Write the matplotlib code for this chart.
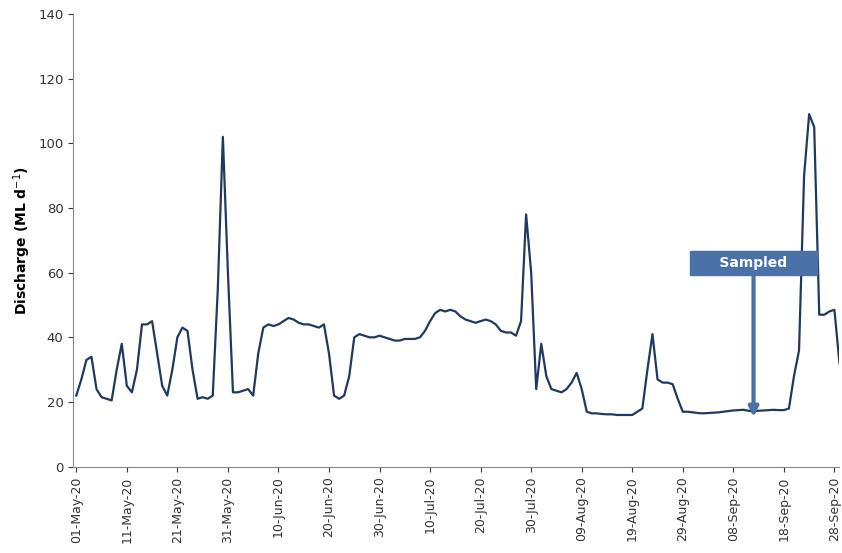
import matplotlib.pyplot as plt
import matplotlib.dates as mdates
import numpy as np
import pandas as pd

discharge = [
    22, 27, 33, 34, 24, 21.5, 21, 20.5, 30, 38,
    25, 23, 30, 44, 44, 45, 35, 25, 22, 30,
    40, 43, 42, 30, 21, 21.5, 21, 22, 55, 102,
    60, 23, 23, 23.5, 24, 22, 35, 43, 44, 43.5,
    44, 45, 46, 45.5, 44.5, 44, 44, 43.5, 43, 44,
    35, 22, 21, 22, 28, 40, 41, 40.5, 40, 40,
    40.5, 40, 39.5, 39, 39, 39.5, 39.5, 39.5, 40, 42,
    45, 47.5, 48.5, 48, 48.5, 48, 46.5, 45.5, 45, 44.5,
    45, 45.5, 45, 44, 42, 41.5, 41.5, 40.5, 45, 78,
    60, 24, 38, 28, 24, 23.5, 23, 24, 26, 29,
    24, 17, 16.5, 16.5, 16.3, 16.2, 16.2, 16, 16, 16,
    16, 17, 18, 30, 41, 27, 26, 26, 25.5, 21,
    17, 17, 16.8, 16.6, 16.5, 16.6, 16.7, 16.8, 17, 17.2,
    17.4, 17.5, 17.6, 17.3, 17.2, 17.3, 17.4, 17.5, 17.6, 17.5,
    17.5, 18, 28, 36, 90, 109, 105, 47, 47, 48,
    48.5, 32,
]
dates = pd.date_range("2020-05-01", periods=len(discharge), freq="D")
tick_dates = pd.date_range("2020-05-01", "2020-09-30", freq="10D")

fig = plt.figure(figsize=(8.42, 5.53), dpi=100)
ax = fig.add_axes([0.087, 0.156, 0.91, 0.819])
ax.plot(dates, discharge, color="#1f3a60", linewidth=1.6)

ax.set_ylim(0, 140)
ax.set_yticks(np.arange(0, 141, 20))
ax.set_xlim(dates[0] - pd.Timedelta(days=0.6), dates[-1])
ax.set_xticks(tick_dates)
ax.xaxis.set_major_formatter(mdates.DateFormatter("%d-%b-%y"))
plt.setp(ax.get_xticklabels(), rotation=90, fontsize=9)
ax.tick_params(axis="y", labelsize=9.5)
ax.set_ylabel("Discharge (ML d$^{-1}$)", fontsize=10, fontweight="bold")

for side in ("top", "right"):
    ax.spines[side].set_visible(False)
for side in ("left", "bottom"):
    ax.spines[side].set_color("#888888")
ax.tick_params(colors="#333333")

ax.annotate(
    "", xy=(dates[134], 14.5), xytext=(dates[134], 60),
    arrowprops=dict(arrowstyle="-|>", color="#4a72a8", lw=3, mutation_scale=14),
)
ax.text(
    dates[134], 63, "     Sampled     ", ha="center", va="center",
    color="white", fontsize=10, fontweight="bold",
    bbox=dict(boxstyle="square,pad=0.35", facecolor="#4a72a8", edgecolor="#4a72a8"),
)

fig.savefig("out.png", dpi=100)
